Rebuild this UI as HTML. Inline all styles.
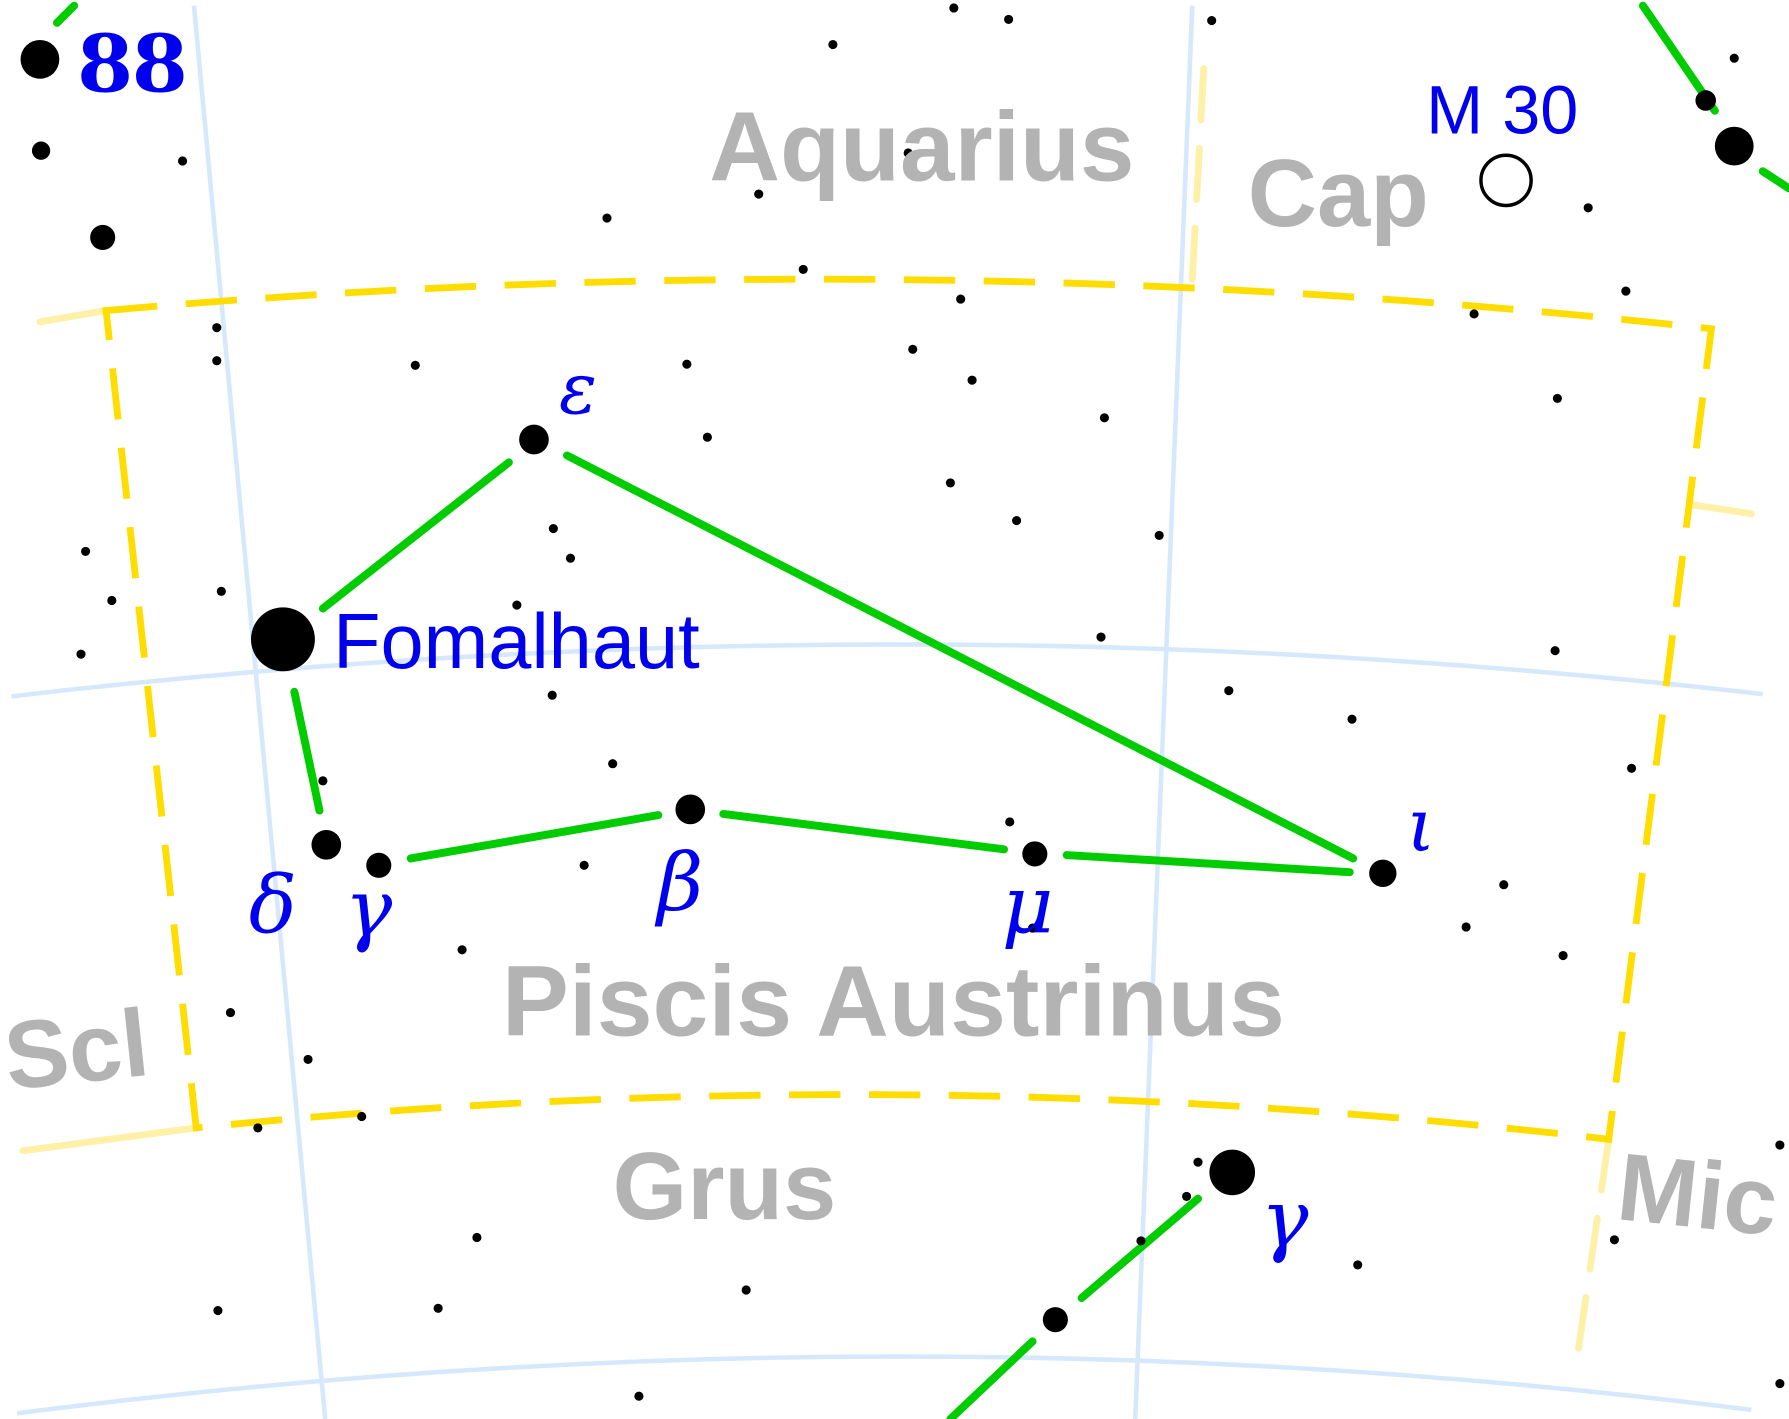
<!DOCTYPE html>
<html><head><meta charset="utf-8"><style>
html,body{margin:0;padding:0;background:#fff;}
svg{display:block;}
.lab{font-family:"Liberation Sans",sans-serif;font-weight:bold;fill:#b3b3b3;}
.blue{fill:#0000ee;font-family:"Liberation Sans",sans-serif;}
.greek{fill:#0000ee;font-family:"DejaVu Serif","Liberation Serif",serif;font-style:italic;}
</style></head><body>
<svg id="map" width="1789" height="1419" viewBox="0 0 1568 1243" preserveAspectRatio="none">
<g fill="none" stroke="#d6e8fb" stroke-width="4">
<path d="M170 5 L285 1243"/><path d="M1045 5 L995 1243"/>
<path d="M10 610 Q780 520 1545 608"/><path d="M15 1238 Q780 1140 1535 1235"/>
</g>
<g fill="none" stroke="#fff0a8" stroke-width="6" stroke-linecap="round">
<path d="M35 282 L93 272"/><path d="M20 1008 L172 988"/>
<path d="M1055 60 L1045 245" stroke-dasharray="45 25"/><path d="M1482 442 L1535 450"/>
<path d="M1410 998 L1383 1185" stroke-dasharray="45 25"/>
</g>
<path fill="none" stroke="#ffdd00" stroke-width="6" stroke-dasharray="45 25"
 d="M93 272 Q795 210 1500 288 L1410 998 Q790 925 172 988 Z"/>
<g id="lines" stroke="#00cc00" stroke-width="7" stroke-linecap="round"></g>
<g id="stars" fill="#000"></g>
<circle cx="1320" cy="158" r="22" fill="none" stroke="#000" stroke-width="3"/>
<text class="lab" x="808" y="158" font-size="86" text-anchor="middle">Aquarius</text>
<text class="lab" x="1173" y="198" font-size="84" text-anchor="middle">Cap</text>
<text class="lab" x="783" y="907" font-size="88" text-anchor="middle">Piscis Austrinus</text>
<text class="lab" x="635" y="1068" font-size="84" text-anchor="middle">Grus</text>
<text class="lab" x="70" y="948" font-size="84" text-anchor="middle" transform="rotate(-6 70 948)">Scl</text>
<text class="lab" x="1485" y="1075" font-size="84" text-anchor="middle" transform="rotate(6 1485 1075)">Mic</text>
<text class="blue" x="68" y="80" font-size="78" textLength="96" lengthAdjust="spacingAndGlyphs" style="font-family:'Liberation Serif',serif;font-weight:bold">88</text>
<text class="blue" x="292" y="585" font-size="68">Fomalhaut</text>
<text class="blue" x="1250" y="117" font-size="60">M 30</text>
<text class="greek" x="490" y="362" font-size="62">ε</text>
<text class="greek" x="218" y="817" font-size="70">δ</text>
<text class="greek" x="302" y="820" font-size="70">γ</text>
<text class="greek" x="576" y="797" font-size="70">β</text>
<text class="greek" x="878" y="817" font-size="70">μ</text>
<text class="greek" x="1233" y="745" font-size="64">ι</text>
<text class="greek" x="1105" y="1092" font-size="70">γ</text>
</svg>
<script>
const segX1=[283,497,258,360,634,935,1440,1545,1050,905,50];
const segY1=[533,399,606,752,713,749,5,150,1050,1175,20];
const segX2=[446,1186,280,577,880,1183,1503,1568,948,833,65];
const segY2=[405,752,710,714,744,764,97,165,1137,1243,5];
const starX=[248,35,90,36,468,286,332,605,907,1212,1520,1495,1080,925,
 160,190,190,364,602,620,485,500,453,484,537,512,405,202,270,226,317,418,384,191,560,654,1190,1040,1050,
 730,836,884,1062,1392,1520,1425,1292,1365,1363,1430,1318,1285,1370,1185,1077,965,1016,891,833,852,968,800,842,704,665,532,796,
 75,98,71,194,283,885,905,1560,1415,1560,1000];
const starY=[560,52,208,132,385,740,758,709,748,765,128,88,1027,1156,
 141,287,316,320,319,383,463,489,530,609,669,758,832,887,928,988,978,1084,1146,1148,1223,1130,1108,1048,1018,
 39,7,17,18,182,51,255,275,349,570,673,775,812,837,630,605,558,469,456,423,333,366,306,262,236,170,191,134,
 483,526,573,518,684,720,813,1003,1086,1212,1087];
const starR=[28,17,11,8,13,13,11,13,11,12,17,9,20,11];
const NS='http://www.w3.org/2000/svg';
const lg=document.getElementById('lines');
for(let i=0;i<segX1.length;i++){
 const l=document.createElementNS(NS,'line');
 l.setAttribute('x1',segX1[i]);l.setAttribute('y1',segY1[i]);l.setAttribute('x2',segX2[i]);l.setAttribute('y2',segY2[i]);
 
 
 lg.appendChild(l);
}
const sg=document.getElementById('stars');
for(let i=0;i<starX.length;i++){
 const c=document.createElementNS(NS,'circle');
 c.setAttribute('cx',starX[i]);c.setAttribute('cy',starY[i]);c.setAttribute('r',i<starR.length?starR[i]:4);
 
 
 sg.appendChild(c);
}
</script>
</body></html>
